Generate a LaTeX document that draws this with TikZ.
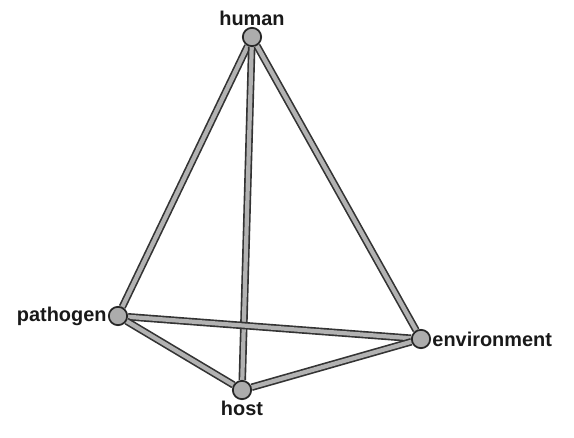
\documentclass[tikz,border=0pt]{standalone}
\usepackage{fontspec}
\setmainfont{Liberation Sans}
\usetikzlibrary{positioning,backgrounds}

\tikzset{
  vertex/.style={circle, draw=black!85, fill=gray!65, line width=1.5pt, minimum size=0.55cm, inner sep=0pt},
  edge/.style={draw=black!80, line width=1.4pt, double=gray!60, double distance=3.6pt},
  vlabel/.style={font=\bfseries\fontsize{17}{18}\selectfont, text=black!90, inner sep=1pt}
}

\begin{document}
\begin{tikzpicture}[x=0.03cm, y=-0.03cm]

  % canvas
  \useasboundingbox (0, 0) rectangle (574, 437);

  % corners of the tetrahedron
  \node[vertex] (human) at (252, 37) {};
  \node[vertex] (pathogen) at (118, 316) {};
  \node[vertex] (environment) at (421, 339) {};
  \node[vertex] (host) at (242, 390) {};

  % edges
  \begin{scope}[on background layer]
    \draw[edge] (human) -- (pathogen);
    \draw[edge] (human) -- (host);
    \draw[edge] (human) -- (environment);
    \draw[edge] (pathogen) -- (environment);
    \draw[edge] (pathogen) -- (host);
    \draw[edge] (host) -- (environment);
  \end{scope}

  % labels
  \node[vlabel, above=0pt of human] (humanlabel) {human};
  \node[vlabel, left=0pt of pathogen] (pathogenlabel) {pathogen};
  \node[vlabel, right=0pt of environment] (environmentlabel) {environment};
  \node[vlabel, below=0pt of host] (hostlabel) {host};

\end{tikzpicture}
\end{document}
